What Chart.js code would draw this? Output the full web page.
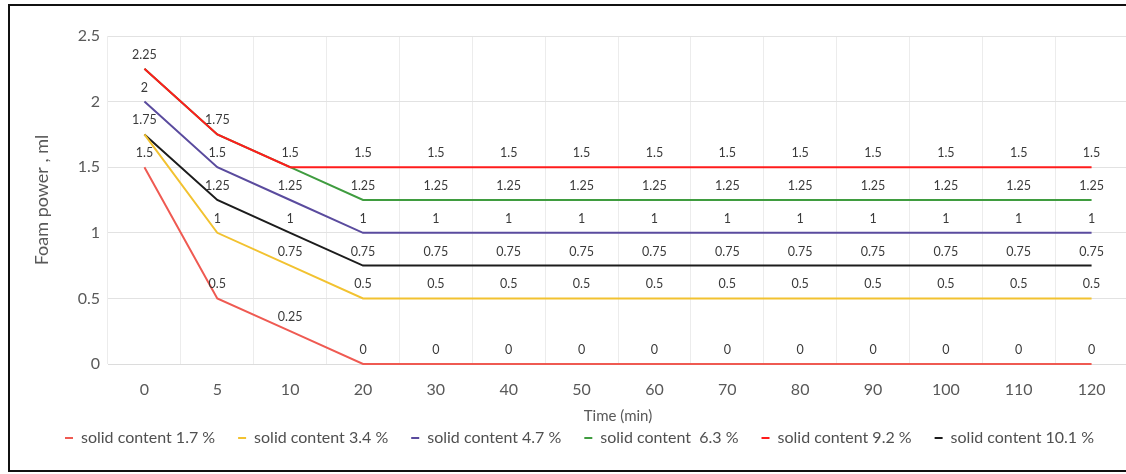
<!DOCTYPE html>
<html>
<head>
<meta charset="utf-8">
<script src="https://cdn.jsdelivr.net/npm/chart.js@4"></script>
<style>
  html, body { margin: 0; padding: 0; background: #fff; overflow: hidden; }
  #frame {
    position: absolute; left: 8px; top: 4px;
    width: 1122px; height: 464px;
    border: 2px solid #111; background: #fff;
  }
  #wrap { position: absolute; left: 0; top: 0; width: 1118px; height: 464px; }
</style>
</head>
<body>
<div id="frame"><div id="wrap"><canvas id="c"></canvas></div></div>
<script>
// Time points (min)
const times = ['0', '5', '10', '20', '30', '40', '50', '60', '70', '80', '90', '100', '110', '120'];

// Foam power (ml) for each solid content
const solid17  = [1.5, 0.5, 0.25, 0, 0, 0, 0, 0, 0, 0, 0, 0, 0, 0];
const solid34  = [1.75, 1, 0.75, 0.5, 0.5, 0.5, 0.5, 0.5, 0.5, 0.5, 0.5, 0.5, 0.5, 0.5];
const solid47  = [2, 1.5, 1.25, 1, 1, 1, 1, 1, 1, 1, 1, 1, 1, 1];
const solid63  = [2.25, 1.75, 1.5, 1.25, 1.25, 1.25, 1.25, 1.25, 1.25, 1.25, 1.25, 1.25, 1.25, 1.25];
const solid92  = [2.25, 1.75, 1.5, 1.5, 1.5, 1.5, 1.5, 1.5, 1.5, 1.5, 1.5, 1.5, 1.5, 1.5];
const solid101 = [1.75, 1.25, 1, 0.75, 0.75, 0.75, 0.75, 0.75, 0.75, 0.75, 0.75, 0.75, 0.75, 0.75];

const seriesNames = [
  'solid content 1.7 %', 'solid content 3.4 %', 'solid content 4.7 %',
  'solid content  6.3 %', 'solid content 9.2 %', 'solid content 10.1 %'
];
const seriesData = [solid17, solid34, solid47, solid63, solid92, solid101];
const seriesColors = ['#ef5a52', '#f2c230', '#5a4b9e', '#3f9c3f', '#ff1c1c', '#1c1c1c'];
// lower order is painted on top
const seriesOrder = [1, 1, 1, 2, 0, 1];

const FONT = 'Lato, "Open Sans", sans-serif';

// Value labels above each point; identical labels at the same spot are drawn once
const valueLabels = {
  id: 'valueLabels',
  afterDatasetsDraw(chart) {
    const ctx = chart.ctx;
    const seen = new Set();
    ctx.save();
    ctx.font = '12.5px ' + FONT;
    ctx.fillStyle = '#3a3a3a';
    ctx.textAlign = 'center';
    ctx.textBaseline = 'middle';
    chart.data.datasets.forEach((ds, di) => {
      const meta = chart.getDatasetMeta(di);
      meta.data.forEach((pt, i) => {
        const v = ds.data[i];
        const key = i + '|' + v;
        if (seen.has(key)) return;
        seen.add(key);
        ctx.fillText(String(v), pt.x, pt.y - 14);
      });
    });
    ctx.restore();
  }
};

new Chart(document.getElementById('c'), {
  type: 'line',
  data: {
    labels: times,
    datasets: seriesData.map((d, i) => ({
      label: seriesNames[i],
      data: d,
      borderColor: seriesColors[i],
      backgroundColor: seriesColors[i],
      borderWidth: 2,
      pointRadius: 0,
      tension: 0,
      clip: false,
      order: seriesOrder[i]
    }))
  },
  options: {
    responsive: true,
    maintainAspectRatio: false,
    animation: false,
    layout: { padding: { left: 21, top: 30, right: 0, bottom: 14 } },
    plugins: {
      tooltip: { enabled: false },
      legend: {
        position: 'bottom',
        labels: {
          boxWidth: 8,
          boxHeight: 2,
          padding: 23,
          color: '#505050',
          font: { family: FONT, size: 16 },
          generateLabels(chart) {
            return chart.data.datasets.map((ds, i) => ({
              text: ds.label,
              fillStyle: ds.borderColor,
              strokeStyle: ds.borderColor,
              lineWidth: 0,
              datasetIndex: i,
              fontColor: '#505050'
            }));
          }
        }
      }
    },
    scales: {
      x: {
        offset: true,
        afterFit(scale) { scale.height = 43; },
        grid: { color: '#ececec', offset: true, drawTicks: false },
        border: { color: '#dcdcdc' },
        ticks: { color: '#595959', padding: 16, font: { family: FONT, size: 16 } },
        title: {
          display: true, text: 'Time (min)', color: '#595959',
          font: { family: FONT, size: 15 }, padding: { top: 0, bottom: -18 }
        }
      },
      y: {
        min: 0, max: 2.5,
        afterFit(scale) { scale.width = 77; },
        grid: { color: '#e2e2e2', drawTicks: false },
        border: { display: false },
        ticks: {
          stepSize: 0.5, color: '#595959', padding: 8,
          font: { family: FONT, size: 16 },
          callback: (v) => String(Number(v))
        },
        title: {
          display: true, text: 'Foam power , ml', color: '#595959',
          font: { family: FONT, size: 18 }, padding: { top: 0, bottom: 0 }
        }
      }
    }
  },
  plugins: [valueLabels]
});
</script>
</body>
</html>
